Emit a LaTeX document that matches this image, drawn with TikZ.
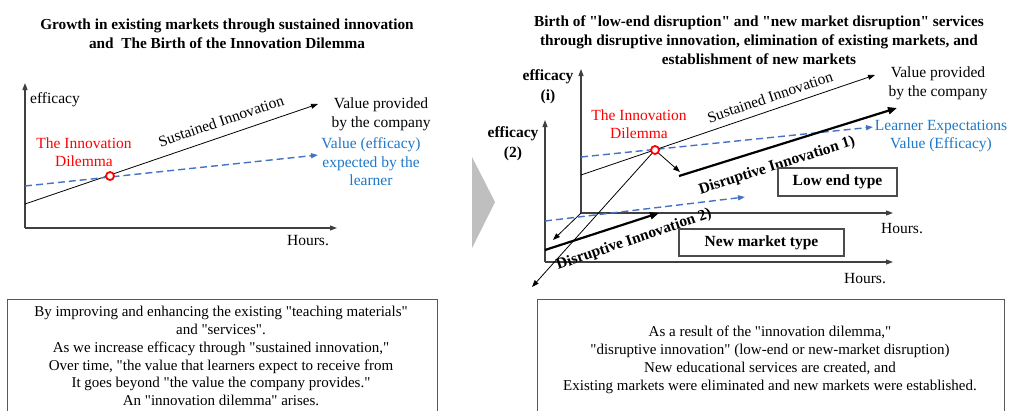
\documentclass[tikz,border=0pt]{standalone}
\usepackage{fontspec}
\setmainfont{Liberation Serif}[Ligatures=TeXOff]
\usetikzlibrary{arrows.meta}
\definecolor{bluetxt}{RGB}{30,120,200}
\definecolor{blueln}{RGB}{68,114,196}
\definecolor{chev}{RGB}{191,191,191}
\tikzset{
  lbl/.style={inner sep=0pt, align=center, font=\fontsize{15.5}{18.6}\selectfont},
  blbl/.style={lbl, font=\bfseries\fontsize{15.5}{20}\selectfont},
  ttl/.style={inner sep=0pt, align=center, font=\bfseries\fontsize{15.3}{18.8}\selectfont},
  tip/.style={-{Triangle[length=7pt,width=5pt]}},
  bigtip/.style={-{Triangle[length=9pt,width=7pt]}},
  axis/.style={tip, draw=black!75, line width=1.1pt},
  thinln/.style={draw=black, line width=0.8pt},
  thickln/.style={draw=black, line width=2.2pt},
  expect/.style={tip, draw=blueln, line width=1.4pt, dash pattern=on 7pt off 4pt},
  dilemma/.style={circle, draw=red, line width=1.8pt, fill=white, minimum size=8pt, inner sep=0pt},
  typebox/.style={draw=black!70, line width=1.1pt, inner sep=0pt,
    font=\bfseries\fontsize{15.5}{18}\selectfont},
  notebox/.style={draw=black!65, line width=0.9pt},
  notetxt/.style={inner sep=0pt, align=center, font=\fontsize{15}{17.8}\selectfont},
}
\begin{document}
\begin{tikzpicture}[x=1pt,y=-1pt]
\clip (0,0) rectangle (1009,410);
\fill[white] (0,0) rectangle (1009,410);

% ---------- left chart: sustained innovation ----------
\node[ttl] (ltitle) at (227,34) {Growth in existing markets through sustained innovation\\and~ The Birth of the Innovation Dilemma};

\coordinate (lO) at (25,228);
\coordinate (lY) at (25,83);
\coordinate (lX) at (337,228);
\draw[axis] (lO) -- (lY);
\draw[axis] (lO) -- (lX);

\coordinate (lS0) at (25,204);
\coordinate (lS1) at (318,104);
\coordinate (lE0) at (25,186);
\coordinate (lE1) at (318,155);
\draw[thinln, tip] (lS0) -- (lS1);
\draw[expect] (lE0) -- (lE1);
\node[dilemma] (ldil) at (110,176) {};

\node[lbl, anchor=west] (leff) at (30,100) {efficacy};
\node[lbl] (lhours) at (308,241) {Hours.};
\node[lbl, text=red] (ldiltxt) at (84,152) {The Innovation\\Dilemma};
\node[lbl, rotate=18.8] (lsust) at (221,121) {Sustained Innovation};
\node[lbl] (lcomp) at (381,114) {Value provided\\by the company};
\node[lbl, text=bluetxt] (llearn) at (371,162) {Value (efficacy)\\expected by the\\learner};

% ---------- arrow between the two charts ----------
\fill[chev] (472,157) -- (495,202) -- (472,248) -- cycle;

% ---------- right chart: disruptive innovation ----------
\node[ttl] (rtitle) at (759,40) {Birth of "low-end disruption" and "new market disruption" services\\through disruptive innovation, elimination of existing markets, and\\establishment of new markets};

\coordinate (rO1) at (581,213);
\coordinate (rY1) at (581,69);
\coordinate (rX1) at (893,213);
\coordinate (rO2) at (545,262);
\coordinate (rY2) at (545,120);
\coordinate (rX2) at (893,262);
\draw[axis] (rO1) -- (rY1);
\draw[axis] (rO1) -- (rX1);
\draw[axis] (rO2) -- (rY2);
\draw[axis] (rO2) -- (rX2);

\coordinate (rE0) at (581,157);
\coordinate (rE1) at (873,127);
\coordinate (rS0) at (581,175);
\coordinate (rS1) at (875,75);
\coordinate (rD0) at (679,176);
\coordinate (rD1) at (897,108);
\coordinate (rF0) at (545,221);
\coordinate (rF1) at (745,197);
\coordinate (rN0) at (545,250);
\coordinate (rN1) at (659,213);
\coordinate (rDown) at (532,287);
\coordinate (rDepth) at (553,240);
\coordinate (rStep) at (680,172);

\draw[expect] (rE0) -- (rE1);
\draw[thinln, tip] (rS0) -- (rS1);
\draw[thickln, bigtip] (rD0) -- (rD1);
\draw[expect] (rF0) -- (rF1);
\draw[thickln, bigtip] (rN0) -- (rN1);
\draw[thinln, tip] (rO1) -- (rDepth);
\node[dilemma] (rdil) at (655,150) {};
\draw[thinln, tip] (rdil) -- (rDown);
\draw[thinln, tip] (rdil) -- (rStep);

\node[blbl] (reff1) at (548,87) {efficacy\\(i)};
\node[blbl] (reff2) at (513,144) {efficacy\\(2)};
\node[lbl, text=red] (rdiltxt) at (639,124) {The Innovation\\Dilemma};
\node[lbl, rotate=18.8] (rsust) at (770,97) {Sustained Innovation};
\node[lbl] (rcomp) at (938,83) {Value provided\\by the company};
\node[lbl, text=bluetxt] (rlearn) at (941,136) {Learner Expectations\\Value (Efficacy)};
\node[blbl, rotate=17.5] (rdis1) at (777,166) {Disruptive Innovation 1)};
\node[blbl, rotate=18.8] (rdis2) at (634,240) {Disruptive Innovation 2)};
\node[lbl] (rhours1) at (902,229) {Hours.};
\node[lbl] (rhours2) at (865,279) {Hours.};
\node[typebox, minimum width=119pt, minimum height=28pt] (lowend) at (837.5,182) {Low end type};
\node[typebox, minimum width=165pt, minimum height=27pt] (newmkt) at (761.5,242.5) {New market type};

% ---------- explanatory notes ----------
\draw[notebox] (7,299) rectangle (437,430);
\node[notetxt] (lnote) at (221,356) {By improving and enhancing the existing "teaching materials"\\and "services".\\As we increase efficacy through "sustained innovation,"\\Over time, "the value that learners expect to receive from\\It goes beyond "the value the company provides."\\An "innovation dilemma" arises.};

\draw[notebox] (537,299) rectangle (1004,430);
\node[notetxt] (rnote) at (770,360) {As a result of the "innovation dilemma,"\\"disruptive innovation" (low-end or new-market disruption)\\New educational services are created, and\\Existing markets were eliminated and new markets were established.};
\end{tikzpicture}
\end{document}
